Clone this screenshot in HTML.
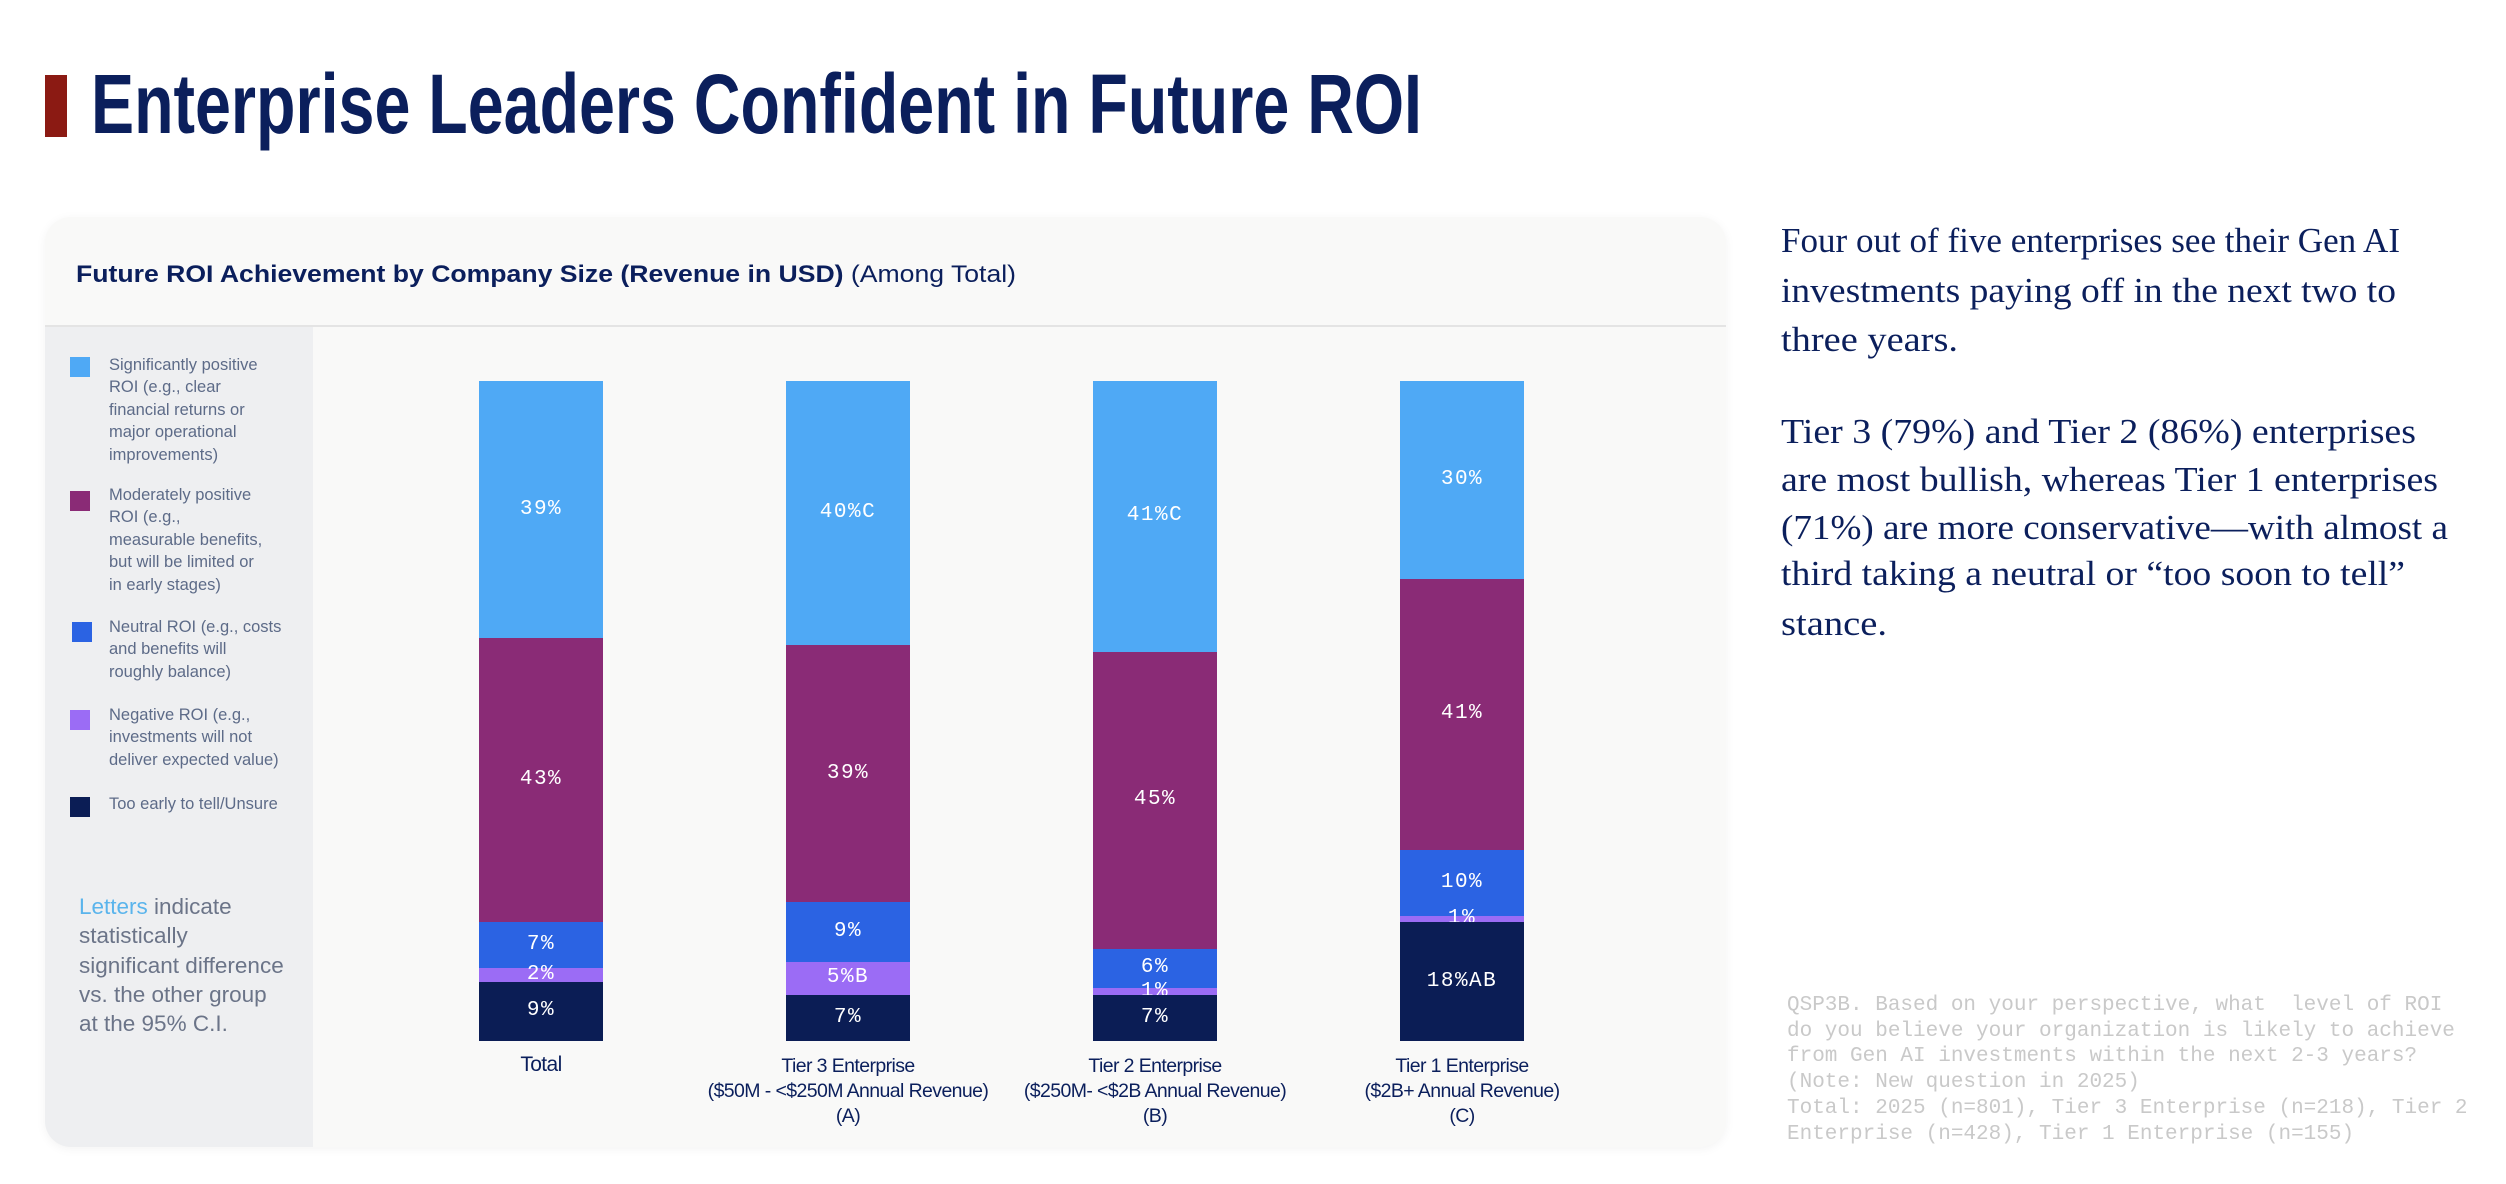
<!DOCTYPE html>
<html><head><meta charset="utf-8"><style>
*{margin:0;padding:0;box-sizing:border-box}
body{width:2506px;height:1184px;background:#fff;position:relative;overflow:hidden;font-family:"Liberation Sans",Arial,sans-serif}
.abs{position:absolute;white-space:nowrap}
.fit{display:inline-block;transform-origin:0 50%}
#card{position:absolute;left:45px;top:217px;width:1681px;height:930px;background:#f9f9f8;border-radius:26px;box-shadow:0 2px 10px rgba(0,0,0,.05);overflow:hidden}
#hdr-line{position:absolute;left:0;top:108px;width:100%;height:2px;background:#e4e4e4}
#legend{position:absolute;left:0;top:110px;width:268px;height:820px;background:#eeeff1}
.sw{position:absolute;width:20px;height:20px}
.lt{position:absolute;left:64px;font-size:16.5px;line-height:22.4px;color:#5d6b88;white-space:nowrap}
.rt{position:absolute;left:1781px;font-family:"Liberation Serif",serif;font-size:35px;color:#0b1f5c;white-space:nowrap;line-height:40px}
.fn{position:absolute;left:1787px;font-family:"Liberation Mono",monospace;font-size:21px;color:#c9c9c9;white-space:pre;line-height:25.7px}
.cat{position:absolute;font-size:19.5px;color:#0b1f5c;text-align:center;line-height:25px;white-space:nowrap}
.bl{position:absolute;font-family:"Liberation Mono",monospace;font-size:21px;letter-spacing:1.5px;color:#fff;text-align:center;white-space:nowrap;line-height:20px}
</style></head><body>
<div style="position:absolute;left:45px;top:75px;width:22px;height:62px;background:#8b1a13"></div>
<div class="abs" style="left:91px;top:62px;font-size:84px;font-weight:bold;color:#0b1f5c;line-height:84px"><span class="fit" data-w="1331">Enterprise Leaders Confident in Future ROI</span></div>

<div id="card">
  <div class="abs" style="left:31px;top:43px;font-size:24px;color:#0b1f5c;line-height:30px"><span class="fit" data-w="940"><b>Future ROI Achievement by Company Size (Revenue in USD)</b> (Among Total)</span></div>
  <div id="hdr-line"></div>
  <div id="legend">
    <div class="sw" style="left:25px;top:30px;background:#4fa9f5"></div>
    <div class="lt" style="top:27px">Significantly positive<br>ROI (e.g., clear<br>financial returns or<br>major operational<br>improvements)</div>
    <div class="sw" style="left:25px;top:164px;background:#8a2b76"></div>
    <div class="lt" style="top:157px">Moderately positive<br>ROI (e.g.,<br>measurable benefits,<br>but will be limited or<br>in early stages)</div>
    <div class="sw" style="left:27px;top:295px;background:#2b63e3"></div>
    <div class="lt" style="top:289px">Neutral ROI (e.g., costs<br>and benefits will<br>roughly balance)</div>
    <div class="sw" style="left:25px;top:383px;background:#9b6cf5"></div>
    <div class="lt" style="top:377px">Negative ROI (e.g.,<br>investments will not<br>deliver expected value)</div>
    <div class="sw" style="left:25px;top:470px;background:#0b1d55"></div>
    <div class="lt" style="top:466px">Too early to tell/Unsure</div>
    <div style="position:absolute;left:34px;top:565px;font-size:22.5px;line-height:29.3px;color:#6b7488;white-space:nowrap"><span style="color:#5ab4ec">Letters</span> indicate<br>statistically<br>significant difference<br>vs. the other group<br>at the 95% C.I.</div>
  </div>
</div>
<div id="chart" style="position:absolute;left:0;top:0"></div>

<div class="rt" style="top:221px"><span class="fit" data-w="619">Four out of five enterprises see their Gen AI</span></div>
<div class="rt" style="top:271px"><span class="fit" data-w="615">investments paying off in the next two to</span></div>
<div class="rt" style="top:320px"><span class="fit" data-w="177">three years.</span></div>
<div class="rt" style="top:412px"><span class="fit" data-w="635">Tier 3 (79%) and Tier 2 (86%) enterprises</span></div>
<div class="rt" style="top:460px"><span class="fit" data-w="657">are most bullish, whereas Tier 1 enterprises</span></div>
<div class="rt" style="top:508px"><span class="fit" data-w="667">(71%) are more conservative—with almost a</span></div>
<div class="rt" style="top:554px"><span class="fit" data-w="624">third taking a neutral or “too soon to tell”</span></div>
<div class="rt" style="top:604px"><span class="fit" data-w="106">stance.</span></div>

<div class="fn" style="top:993px">QSP3B. Based on your perspective, what  level of ROI
do you believe your organization is likely to achieve
from Gen AI investments within the next 2-3 years?
(Note: New question in 2025)
Total: 2025 (n=801), Tier 3 Enterprise (n=218), Tier 2
Enterprise (n=428), Tier 1 Enterprise (n=155)</div>

<script>
const categories = ["Total", "Tier 3 Enterprise", "Tier 2 Enterprise", "Tier 1 Enterprise"];
const subLabels = [[], ["($50M - <$250M Annual Revenue)", "(A)"], ["($250M- <$2B Annual Revenue)", "(B)"], ["($2B+ Annual Revenue)", "(C)"]];
const seriesNames = ["significant", "moderate", "neutral", "negative", "unsure"];
const seriesColors = ["#4fa9f5", "#8a2b76", "#2b63e3", "#9b6cf5", "#0b1d55"];
const significant = [39, 40, 41, 30];
const moderate = [43, 39, 45, 41];
const neutral = [7, 9, 6, 10];
const negative = [2, 5, 1, 1];
const unsure = [9, 7, 7, 18];
const sigLetters = [["", "C", "C", ""], ["", "", "", ""], ["", "", "", ""], ["", "B", "", ""], ["", "", "", "AB"]];

const series = [significant, moderate, neutral, negative, unsure];
const chart = document.getElementById('chart');
const TOP = 381, BOT = 1041, BW = 124, X0 = 541, DX = 307;
function yScale(p){ return TOP + (BOT - TOP) * p / 100; }
function xCenter(i){ return X0 + DX * i; }

categories.forEach((cat, i) => {
  const total = series.reduce((s, a) => s + a[i], 0);
  let acc = 0;
  series.forEach((arr, s) => {
    const v = arr[i];
    const y1 = yScale(acc / total * 100), y2 = yScale((acc + v) / total * 100);
    acc += v;
    const seg = document.createElement('div');
    
    
    seg.style.cssText = `position:absolute;left:${xCenter(i) - BW/2}px;top:${y1}px;width:${BW}px;height:${y2 - y1}px;background:${seriesColors[s]}`;
    chart.appendChild(seg);
    const lb = document.createElement('div');
    lb.className = 'bl';
    
    
    lb.textContent = v + '%' + sigLetters[s][i];
    lb.style.left = (xCenter(i) - 80) + 'px';
    lb.style.width = '160px';
    lb.style.top = ((y1 + y2) / 2 - 10) + 'px';
    chart.appendChild(lb);
  });
  const c = document.createElement('div');
  c.className = 'cat';
  
  
  c.innerHTML = [cat].concat(subLabels[i]).join('<br>');
  c.style.left = (xCenter(i) - 150) + 'px';
  c.style.width = '300px';
  c.style.top = (i === 0 ? 1052 : 1054) + 'px';
  c.style.letterSpacing = '-0.6px';
  if (i === 0) c.style.fontSize = '21px';
  chart.appendChild(c);
});

document.querySelectorAll('.fit').forEach(el => {
  const w = el.getBoundingClientRect().width;
  const t = parseFloat(el.getAttribute('data-w'));
  if (w > 0) el.style.transform = 'scaleX(' + (t / w) + ')';
});
</script>
</body></html>
